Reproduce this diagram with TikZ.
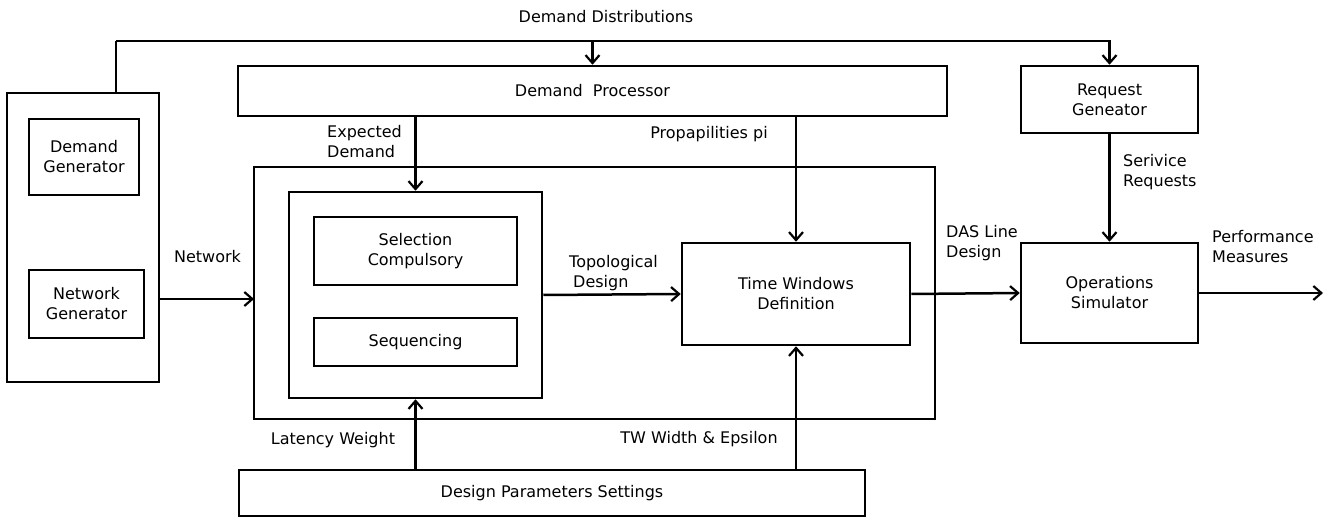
\documentclass[tikz,border=0pt]{standalone}
\usepackage{fontspec}
\setmainfont{DejaVu Sans}
\usetikzlibrary{arrows.meta}
\begin{document}
\begin{tikzpicture}[x=1pt,y=-1pt,
  every node/.style={font=\fontsize{16}{20}\selectfont},
  box/.style={draw,line width=2.5pt,inner sep=0pt,align=center},
  wire/.style={line width=2.5pt},
  arr/.style={wire,-{Straight Barb[length=8pt,width=14pt,line width=2.2pt]}},
  lbl/.style={inner sep=0pt,align=left},
  lblw/.style={lbl,anchor=west}]
\useasboundingbox (0,0) rectangle (1332,518);

% generators block
\node[box,minimum width=152pt,minimum height=289pt] (outer) at (83,237.5) {};
\node[box,minimum width=110pt,minimum height=76pt] (dgen) at (84,157) {Demand\\Generator};
\node[box,minimum width=115pt,minimum height=68pt] (ngen) at (86.5,304) {Network\\Generator};

% processing blocks
\node[box,minimum width=709pt,minimum height=50pt] (dproc) at (592.5,91) {Demand\ \ Processor};
\node[box,minimum width=177pt,minimum height=67pt] (reqgen) at (1109.5,99.5) {Request\\Geneator};
\node[box,minimum width=681pt,minimum height=252pt] (big) at (594.5,293) {};
\node[box,minimum width=253pt,minimum height=206pt] (inner) at (415.5,295) {};
\node[box,minimum width=203pt,minimum height=68pt] (sel) at (415.5,251) {Selection\\Compulsory};
\node[box,minimum width=203pt,minimum height=48pt] (seq) at (415.5,342) {Sequencing};
\node[box,minimum width=228pt,minimum height=102pt] (tw) at (796,294) {Time Windows\\Definition};
\node[box,minimum width=177pt,minimum height=100pt] (opsim) at (1109.5,293) {Operations\\Simulator};
\node[box,minimum width=626pt,minimum height=46pt] (dps) at (552,493) {Design Parameters Settings};

% free ends of connectors
\coordinate (dd) at (116,41);
\coordinate (netin) at (254,299);
\coordinate (perfout) at (1323,293);

% demand distributions
\draw[wire] (outer.north -| dd) -- (dd);
\draw[arr] (dd) -| (reqgen.north);
\draw[arr] (dd -| dproc.north) -- (dproc.north);

% connectors
\draw[arr] (inner.north |- dproc.south) -- (inner.north);
\draw[arr] (tw.north |- dproc.south) -- (tw.north);
\draw[arr] (reqgen.south) -- (opsim.north);
\draw[arr] (outer.east |- netin) -- (netin);
\draw[arr] (inner.east) -- (tw.west);
\draw[arr] (tw.east) -- (opsim.west);
\draw[arr] (opsim.east) -- (perfout);
\draw[arr] (inner.south |- dps.north) -- (inner.south);
\draw[arr] (tw.south |- dps.north) -- (tw.south);

% labels
\node[lbl] at (606,17) {Demand Distributions};
\node[lblw] at (327,142) {Expected\\Demand};
\node[lbl] at (709,134) {Propapilities pi};
\node[lbl] at (207.5,257) {Network};
\node[lblw] at (569,273) {Topological\\\hspace*{4pt}Design};
\node[lblw] at (946,243) {DAS Line\\Design};
\node[lblw] at (1123,172) {Serivice\\Requests};
\node[lblw] at (1212,247) {Performance\\Measures};
\node[lbl] at (333,440) {Latency Weight};
\node[lbl] at (699,439) {TW Width \& Epsilon};
\end{tikzpicture}
\end{document}
